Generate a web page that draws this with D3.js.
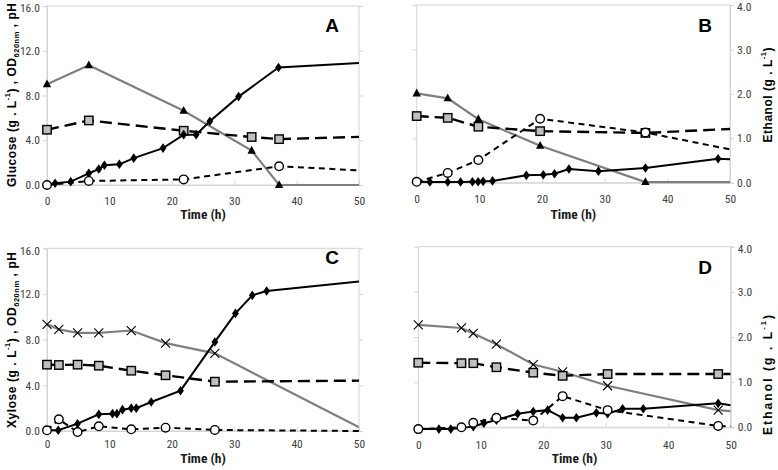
<!DOCTYPE html>
<html><head><meta charset="utf-8">
<script src="https://cdn.jsdelivr.net/npm/d3@7"></script>
<style>body{margin:0;background:#fff}svg{display:block}</style>
</head><body>
<script>
// ---------- data ----------
const xTicks = [0, 10, 20, 30, 40, 50];
const leftTicks = [0, 4, 8, 12, 16];
const rightTicks = [0, 1, 2, 3, 4];
const timeLabel = "Time (h)";
const panelLetters = ["A", "B", "C", "D"];

// Panel A (left axis 0-16)
const aSugar   = [[0,9.0],[6.7,10.7],[21.9,6.64],[32.8,3.07],[37.2,0],[50,0]];
const aOD      = [[0,0.05],[1.3,0.15],[3.8,0.3],[6.7,1.04],[8.3,1.43],[9.2,1.76],[11.6,1.85],[13.9,2.4],[18.6,3.3],[21.9,4.5],[23.9,4.5],[26.1,5.7],[30.7,7.9],[37.1,10.5],[50,10.9]];
const aPH      = [[0,4.94],[6.7,5.77],[21.9,4.85],[32.8,4.29],[37.2,4.1],[50,4.3]];
const aEthanol = [[0,0],[6.7,0.36],[21.9,0.5],[37.2,1.67],[50,1.31]];

// Panel B (right axis 0-4)
const bSugar   = [[0,2.01],[4.95,1.9],[9.84,1.43],[19.7,0.83],[36.5,0.015],[50,0.015]];
const bOD      = [[0,0.02],[2.1,0.015],[4.95,0.015],[7,0.015],[8.9,0.02],[9.8,0.02],[10.6,0.03],[12.1,0.04],[17.5,0.165],[20.2,0.18],[22,0.2],[24.3,0.31],[29,0.26],[36.5,0.33],[48.1,0.54],[50,0.53]];
const bPH      = [[0,1.5],[4.95,1.46],[9.84,1.26],[19.7,1.16],[36.5,1.12],[50,1.21]];
const bEthanol = [[0,0.02],[4.95,0.22],[9.84,0.51],[19.7,1.44],[36.5,1.13],[50,0.75]];

// Panel C (left axis 0-16)
const cSugar   = [[0,9.34],[1.9,8.9],[4.9,8.6],[8.3,8.6],[13.5,8.8],[19,7.7],[26.9,6.8],[50,0.32]];
const cOD      = [[0,0.06],[1.8,0.06],[4.9,0.64],[8.3,1.46],[10.5,1.52],[11.2,1.52],[12.1,1.87],[13.5,2.0],[14.3,2.0],[16.7,2.54],[21.4,3.53],[26.9,7.8],[30.2,10.3],[32.9,11.88],[35.2,12.26],[50,13.1]];
const cPH      = [[0,5.81],[1.9,5.78],[4.9,5.81],[8.3,5.72],[13.5,5.28],[19,4.88],[26.9,4.32],[50,4.41]];
const cEthanol = [[0,0.06],[1.9,1.02],[4.9,-0.09],[8.3,0.41],[13.5,0.15],[19,0.29],[26.9,0.09],[50,0.0]];

// Panel D (right axis 0-4)
const dSugar   = [[0,2.27],[6.9,2.2],[8.8,2.08],[12.5,1.84],[18.4,1.39],[23.1,1.23],[30.3,0.92],[48,0.38],[50,0.36]];
const dOD      = [[0,-0.04],[3.3,-0.04],[5.2,-0.04],[8.8,0.015],[10.5,0.09],[12.5,0.16],[15.9,0.3],[18.4,0.35],[20.7,0.38],[23.1,0.21],[25.3,0.21],[28.5,0.32],[30.3,0.3],[32.7,0.41],[36,0.41],[48,0.53],[50,0.49]];
const dPH      = [[0,1.43],[6.9,1.42],[8.8,1.42],[12.5,1.33],[18.4,1.21],[23.1,1.14],[30.3,1.18],[48,1.18],[50,1.18]];
const dEthanol = [[0,-0.04],[6.9,0.0],[8.8,0.1],[12.5,0.21],[18.4,0.15],[23.1,0.69],[30.3,0.38],[48,0.03],[50,0.02]];

// ---------- layout ----------
const W = 778, H = 470;
const svg = d3.select("body").append("svg").attr("width", W).attr("height", H);
const tickFont = "'Liberation Sans Narrow','Arial Narrow','Roboto Condensed',Roboto,sans-serif";

const panels = [
  {id:"A", x:[47,359], y:[185,6], max:16, ticks:leftTicks, side:"left", sugarMark:"tri",
   series:{sugar:aSugar, od:aOD, ph:aPH, eth:aEthanol}, tickDy:16, timeY:214, letter:[332,25]},
  {id:"B", x:[416.7,730], y:[182.7,5], max:4, ticks:rightTicks, side:"right", sugarMark:"tri",
   series:{sugar:bSugar, od:bOD, ph:bPH, eth:bEthanol}, tickDy:16, timeY:214, letter:[705,25]},
  {id:"C", x:[47,359], y:[431,248.3], max:16, ticks:leftTicks, side:"left", sugarMark:"x",
   series:{sugar:cSugar, od:cOD, ph:cPH, eth:cEthanol}, tickDy:12.5, timeY:457.5, letter:[332,257]},
  {id:"D", x:[418.3,730.7], y:[427.3,246.7], max:4, ticks:rightTicks, side:"right", sugarMark:"x",
   series:{sugar:dSugar, od:dOD, ph:dPH, eth:dEthanol}, tickDy:18, timeY:457.5, letter:[705,267]}
];

panels.forEach((p, i) => {
  const x = d3.scaleLinear().domain([0,50]).range(p.x);
  const y = d3.scaleLinear().domain([0,p.max]).range(p.y);
  const g = svg.append("g");
  const frame = "#d4d4d4";

  g.append("rect").attr("x", p.x[0]).attr("y", p.y[1])
    .attr("width", p.x[1]-p.x[0]).attr("height", p.y[0]-p.y[1])
    .attr("fill", "none").attr("stroke", frame).attr("stroke-width", 1);

  const yAx = (p.side === "left" ? d3.axisLeft(y) : d3.axisRight(y))
    .tickValues(p.ticks).tickFormat(d3.format(".1f")).tickSize(4).tickPadding(3);
  const yg = g.append("g").attr("transform", `translate(${p.side==="left"?p.x[0]:p.x[1]},0)`).call(yAx);
  yg.select(".domain").attr("stroke", frame);
  yg.selectAll(".tick line").attr("stroke", frame);
  yg.selectAll(".tick text").attr("fill", "#404040").style("font-family", tickFont).style("font-size", "11.5px")
    .attr("dy", d => d === p.max ? "0.5em" : "0.32em");
  const yAx2 = (p.side === "left" ? d3.axisRight(y) : d3.axisLeft(y)).tickValues(p.ticks).tickSize(4).tickFormat("");
  const yg2 = g.append("g").attr("transform", `translate(${p.side==="left"?p.x[1]:p.x[0]},0)`).call(yAx2);
  yg2.select(".domain").remove();
  yg2.selectAll(".tick line").attr("stroke", frame);

  const xAx = d3.axisBottom(x).tickValues(xTicks).tickSize(0).tickFormat(d3.format("d"));
  const xg = g.append("g").attr("transform", `translate(0,${p.y[0]})`).call(xAx);
  xg.select(".domain").attr("stroke", frame);
  xg.selectAll(".tick text").attr("dy", null).attr("y", p.tickDy).attr("dominant-baseline", "central")
    .attr("fill", "#404040").style("font-family", tickFont).style("font-size", "11.5px");
  xg.selectAll(".tick").append("line").attr("y1", 0).attr("y2", -4).attr("stroke", frame);

  g.append("text").attr("x", (p.x[0]+p.x[1])/2).attr("y", p.timeY).attr("text-anchor","middle")
    .attr("dominant-baseline","central").style("font-family", tickFont).style("font-weight","bold")
    .style("font-size","13.5px").attr("fill","#1a1a1a").text(timeLabel);

  g.append("text").attr("x", p.letter[0]).attr("y", p.letter[1]).attr("text-anchor","middle")
    .attr("dominant-baseline","central").style("font-family","'Liberation Sans',Arial,sans-serif")
    .style("font-weight","bold").style("font-size","19px").attr("fill","#000").text(panelLetters[i]);

  const cid = "clip"+p.id;
  svg.append("clipPath").attr("id", cid).append("rect")
    .attr("x", p.x[0]-8).attr("y", p.y[1]).attr("width", p.x[1]-p.x[0]+8).attr("height", p.y[0]-p.y[1]+10);
  const dg = g.append("g").attr("clip-path", `url(#${cid})`);

  const line = d3.line().x(d => x(d[0])).y(d => y(d[1]));
  dg.append("path").datum(p.series.sugar).attr("d", line).attr("fill","none")
    .attr("stroke","#7f7f7f").attr("stroke-width",2.2);
  dg.append("path").datum(p.series.ph).attr("d", line).attr("fill","none")
    .attr("stroke","#000").attr("stroke-width",2.4).attr("stroke-dasharray","12,6");
  dg.append("path").datum(p.series.eth).attr("d", line).attr("fill","none")
    .attr("stroke","#000").attr("stroke-width",2).attr("stroke-dasharray","6,4.5");
  dg.append("path").datum(p.series.od).attr("d", line).attr("fill","none")
    .attr("stroke","#000").attr("stroke-width",2);

  const pts = arr => arr.filter(d => d[0] < 50);
  if (p.sugarMark === "tri") {
    dg.selectAll(".tri").data(pts(p.series.sugar)).enter().append("path")
      .attr("transform", d => `translate(${x(d[0])},${y(d[1])})`)
      .attr("d", "M0,-4.8L4.2,3L-4.2,3Z").attr("fill","#000");
  } else {
    dg.selectAll(".xm").data(pts(p.series.sugar)).enter().append("path")
      .attr("transform", d => `translate(${x(d[0])},${y(d[1])})`)
      .attr("d", "M-4.5,-4.5L4.5,4.5M-4.5,4.5L4.5,-4.5").attr("stroke","#000").attr("stroke-width",1.1).attr("fill","none");
  }
  dg.selectAll(".sq").data(pts(p.series.ph)).enter().append("rect")
    .attr("x", d => x(d[0])-4.2).attr("y", d => y(d[1])-4.2).attr("width",8.4).attr("height",8.4)
    .attr("fill","#bfbfbf").attr("stroke","#000").attr("stroke-width",1.4);
  dg.selectAll(".di").data(pts(p.series.od)).enter().append("path")
    .attr("transform", d => `translate(${x(d[0])},${y(d[1])})`)
    .attr("d", "M0,-4.8L3.4,0L0,4.8L-3.4,0Z").attr("fill","#000");
  dg.selectAll(".ci").data(pts(p.series.eth)).enter().append("circle")
    .attr("cx", d => x(d[0])).attr("cy", d => y(d[1])).attr("r", 4.3)
    .attr("fill","#fff").attr("stroke","#000").attr("stroke-width",1.4);
});

function yTitle(parts, cx, cy, len) {
  const t = svg.append("text").attr("transform", `translate(${cx},${cy}) rotate(-90)`)
    .attr("text-anchor","middle").attr("dominant-baseline","central")
    .style("font-family","'Liberation Sans',Arial,sans-serif").style("font-weight","bold")
    .style("font-size","12px").attr("fill","#000");
  parts.forEach(pt => {
    const s = t.append("tspan").text(pt.t);
    if (pt.sup) s.attr("baseline-shift","super").style("font-size","7.5px");
    if (pt.sub) s.attr("baseline-shift","sub").style("font-size","7.5px");
  });
  if (len) t.attr("textLength", len).attr("lengthAdjust","spacing");
}
const leftA = [{t:"Glucose  (g . L"},{t:"-1",sup:1},{t:") , OD"},{t:"620nm",sub:1},{t:" , pH"}];
const leftC = [{t:"Xylose (g . L"},{t:"-1",sup:1},{t:") , OD"},{t:"620nm",sub:1},{t:" , pH"}];
const rightL = [{t:"Ethanol (g . L"},{t:"-1",sup:1},{t:")"}];
yTitle(leftA, 12, 95, 184);
yTitle(leftC, 12, 340, 176);
yTitle(rightL, 768, 95, 95);
yTitle(rightL, 768, 375, 120);
</script>
</body></html>
